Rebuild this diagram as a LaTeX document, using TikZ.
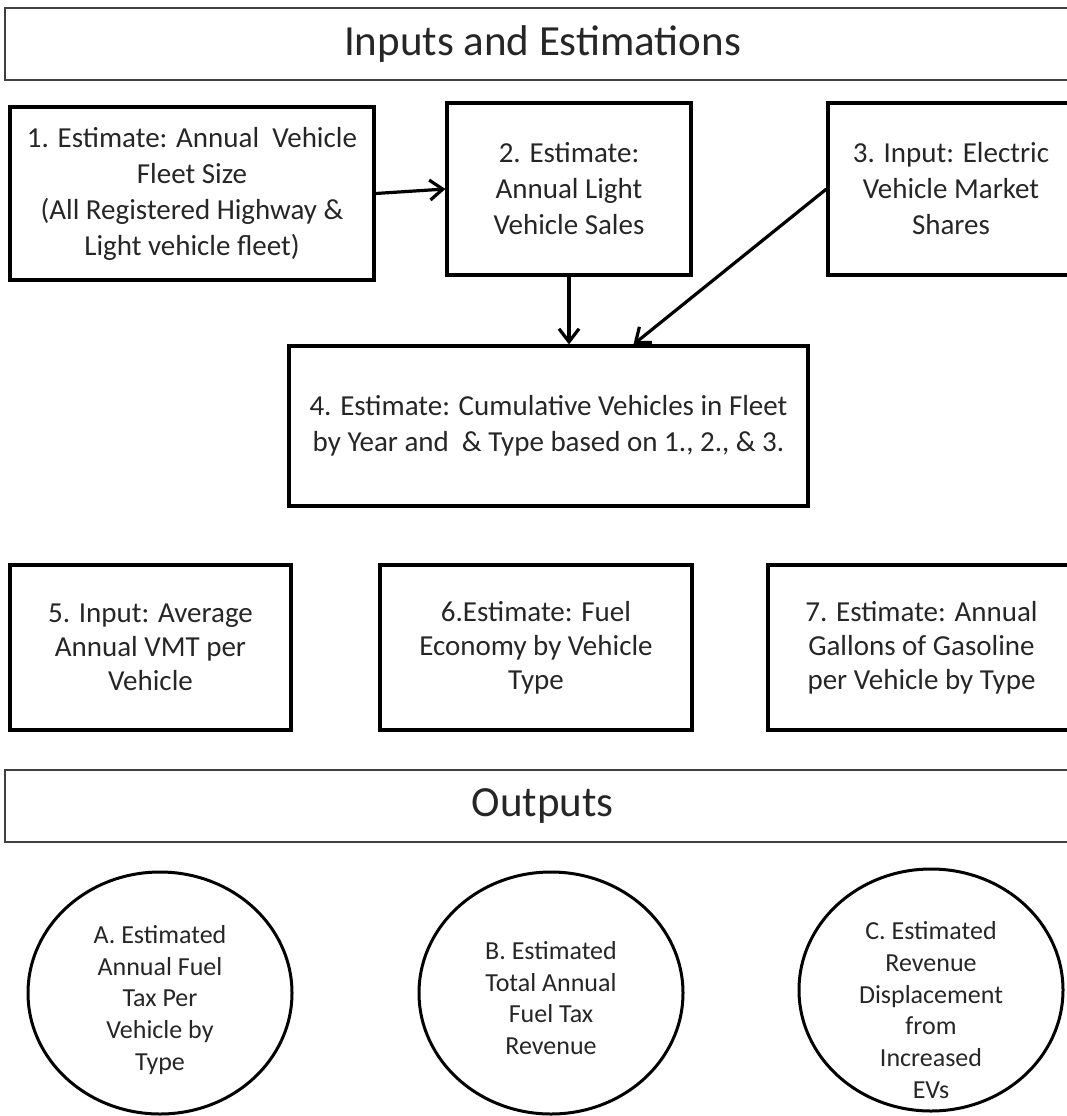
\documentclass[tikz,border=0pt]{standalone}
\usepackage{fontspec}
\setmainfont{Carlito}
\usetikzlibrary{arrows.meta,shapes.geometric,calc}

\tikzset{
	est/.style={draw, line width=3.2pt, align=center, inner sep=0pt, font=\fontsize{29}{36}\selectfont, text=black!85},
	head/.style={draw=black!75, line width=2.4pt, inner sep=0pt, minimum width=1075pt, minimum height=72pt, font=\fontsize{43}{50}\selectfont, text=black!85},
	outc/.style={draw, ellipse, line width=3pt, inner sep=0pt, minimum width=264pt, minimum height=242pt},
	outtext/.style={align=center, font=\fontsize{26}{31.7}\selectfont, text=black!85},
	link/.style={line width=3.2pt, -{Straight Barb[length=13pt,width=20pt]}}
}

\begin{document}
\begin{tikzpicture}[x=1pt,y=-1pt]
	\useasboundingbox (0,0) rectangle (1067,1116);
	\clip (0,0) rectangle (1067,1116);

	% headings
	\node[head] (hin) at (542.5,44) {Inputs and Estimations};
	\node[head] (hout) at (542.5,806) {Outputs};

	% inputs and estimations
	\node[est, minimum width=364pt, minimum height=173pt] (b1) at (192,193.5) {1. Estimate: Annual~ Vehicle\\Fleet Size\\(All Registered Highway \&\\Light vehicle fleet)};
	\node[est, minimum width=244pt, minimum height=172pt] (b2) at (569,189) {2. Estimate:\\Annual Light\\Vehicle Sales};
	\node[est, minimum width=246pt, minimum height=172pt] (b3) at (951,189) {3. Input: Electric\\Vehicle Market\\Shares};
	\node[est, minimum width=519pt, minimum height=160pt] (b4) at (548.5,426) {4. Estimate: Cumulative Vehicles in Fleet\\by Year and~ \& Type based on 1., 2., \& 3.};

	\node[est, minimum width=281pt, minimum height=165pt, font=\fontsize{29}{34}\selectfont] (b5) at (150.5,647.5) {5. Input: Average\\Annual VMT per\\Vehicle};
	\node[est, minimum width=312pt, minimum height=165pt, font=\fontsize{29}{34}\selectfont] (b6) at (536,647.5) {6.Estimate: Fuel\\Economy by Vehicle\\Type};
	\node[est, minimum width=307pt, minimum height=165pt, font=\fontsize{29}{34}\selectfont] (b7) at (921.5,647.5) {7. Estimate: Annual\\Gallons of Gasoline\\per Vehicle by Type};

	% arrows
	\coordinate (in3) at ($(b4.north)+(85pt,0)$);
	\draw[link] (b1.east) -- (b2.west);
	\draw[link] (b2.south) -- (b2.south |- b4.north);
	\draw[link] (b3.west) -- (in3);

	% outputs
	\node[outc] (oa) at (160,993) {};
	\node[outc] (ob) at (551,993) {};
	\node[outc] (oc) at (931,990) {};
	\node[outtext] at ([yshift=-7pt]oa.center) {A. Estimated\\Annual Fuel\\Tax Per\\Vehicle by\\Type};
	\node[outtext] at ([yshift=-5pt]ob.center) {B. Estimated\\Total Annual\\Fuel Tax\\Revenue};
	\node[outtext] at ([yshift=-20pt]oc.center) {C. Estimated\\Revenue\\Displacement\\from\\Increased\\EVs};
\end{tikzpicture}
\end{document}
